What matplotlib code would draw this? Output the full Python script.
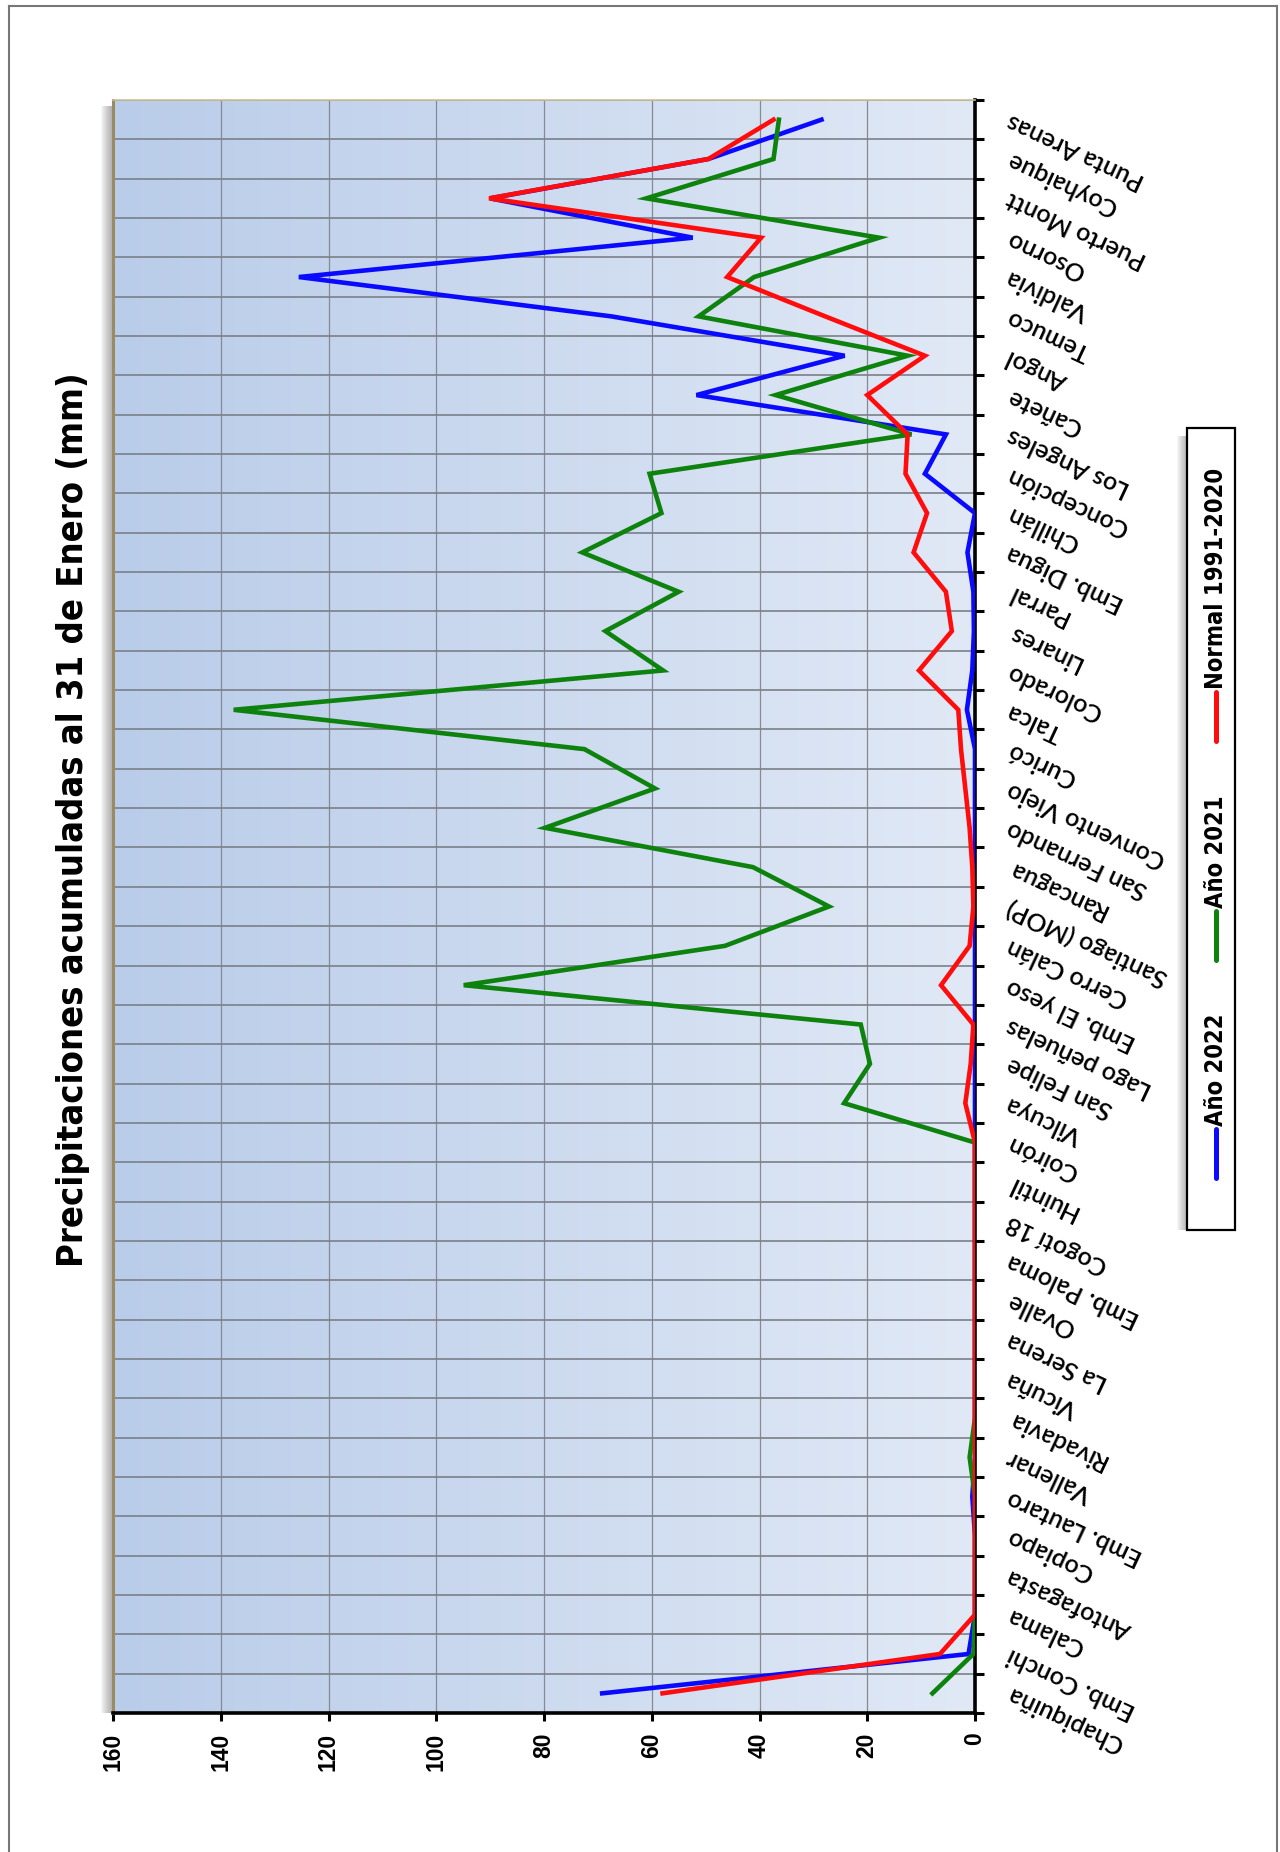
import numpy as np
import matplotlib.pyplot as plt
import matplotlib.transforms as mtransforms
from matplotlib.patches import Rectangle
from matplotlib.lines import Line2D
from matplotlib.colors import LinearSegmentedColormap

# estaciones de norte (abajo) a sur (arriba)
estaciones = ["Chapiquiña", "Emb. Conchi", "Calama", "Antofagasta", "Copiapo",
              "Emb. Lautaro", "Vallenar", "Rivadavia", "Vicuña", "La Serena",
              "Ovalle", "Emb. Paloma", "Cogotí 18", "Huintil", "Coirón",
              "Vilcuya", "San Felipe", "Lago peñuelas", "Emb. El yeso", "Cerro Calán",
              "Santiago (MOP)", "Rancagua", "San Fernando", "Convento Viejo", "Curicó",
              "Talca", "Colorado", "Linares", "Parral", "Emb. Digua",
              "Chillán", "Concepción", "Los Angeles", "Cañete", "Angol",
              "Temuco", "Valdivia", "Osorno", "Puerto Montt", "Coyhaique",
              "Punta Arenas"]

ano2022 = [69.2, 1.2, 0, 0, 0, 0.5, 0, 0, 0, 0,
           0, 0, 0, 0, 0, 0, 0, 0, 0, 0,
           0, 0, 0, 0, 0, 1.5, 0.5, 0.2, 0.3, 1.4,
           0, 9.3, 5.4, 51.7, 24.2, 67.5, 125.5, 52.4, 90.0, 49.5,
           28.5]
ano2021 = [7.9, 0.3, 0, 0, 0, 0, 1.0, 0, 0, 0,
           0, 0, 0, 0, 0, 24.3, 19.5, 21.2, 94.9, 46.4,
           27.1, 41.2, 79.8, 59.4, 72.5, 137.6, 57.9, 68.6, 55.0, 72.9,
           58.2, 60.4, 11.8, 37.0, 12.5, 51.3, 41.0, 17.8, 61.0, 37.4,
           36.4]
normal = [58.0, 6.5, 0, 0, 0, 0, 0, 0, 0, 0,
          0, 0, 0, 0, 0, 1.8, 0.8, 0.3, 6.3, 1.0,
          0.3, 0.5, 1.0, 1.8, 2.6, 3.1, 10.4, 4.3, 5.4, 11.4,
          8.9, 12.9, 12.5, 20.0, 9.3, 27.8, 46.0, 39.7, 90.2, 49.5,
          37.4]

series = ["Año 2022", "Año 2021", "Normal 1991-2020"]
colores = ["#0a0aff", "#0d820d", "#ff0d0d"]
ticks_valor = list(range(0, 161, 20))
titulo = "Precipitaciones acumuladas al 31 de Enero (mm)"

W, H = 1280, 1852
def fx(px):
    return px / W
def fy(py):
    return 1 - py / H

fig = plt.figure(figsize=(12.8, 18.52), dpi=100)
fig.patch.set_facecolor("white")

# sombra del area de trazado
for k in range(12):
    fig.add_artist(Rectangle((fx(101 + k), fy(1713)), fx(113) - fx(101 + k), fy(106) - fy(1713),
                             transform=fig.transFigure, fc="#606060", ec="none",
                             alpha=0.05, zorder=0))

ax = fig.add_axes([fx(113), fy(1713), fx(975) - fx(113), fy(100) - fy(1713)])
grad = np.linspace(0, 1, 256).reshape(1, -1)
cmap = LinearSegmentedColormap.from_list("fondo", ["#b9cce9", "#e1e9f6"])
ax.imshow(grad, extent=[0, 1, 0, 1], transform=ax.transAxes, aspect="auto",
          cmap=cmap, zorder=0)

y = np.arange(len(estaciones)) + 0.5
for vals, c, nom in zip([ano2022, ano2021, normal], colores, series):
    ax.plot(vals, y, color=c, lw=3.3, label=nom, zorder=3, solid_joinstyle="miter")

ax.set_xlim(160, 0)
ax.set_ylim(0, len(estaciones))
ax.set_xticks(ticks_valor)
ax.set_xticklabels([str(t) for t in ticks_valor], rotation=90, fontsize=16.5,
                   fontweight="bold", family=["Liberation Sans", "DejaVu Sans"])
ax.set_yticks(np.arange(0, len(estaciones) + 1))
ax.yaxis.tick_right()
ax.set_yticklabels([])
ax.tick_params(axis="y", direction="out", length=6.5, width=2.2, color="black")
ax.tick_params(axis="x", direction="out", length=6, width=2.2, pad=8)

ax.set_axisbelow(True)
ax.grid(True, axis="x", color="#858a94", lw=0.9)
ax.grid(True, axis="y", color="#7b8089", lw=1.2)

ax.spines["right"].set_color("black")
ax.spines["right"].set_linewidth(2.6)
ax.spines["bottom"].set_color("black")
ax.spines["bottom"].set_linewidth(2.6)
ax.spines["left"].set_color("#9b8b62")
ax.spines["left"].set_linewidth(2.2)
ax.spines["top"].set_color("#cdbf95")
ax.spines["top"].set_linewidth(1.2)

# nombres de estaciones, inclinados
off = mtransforms.ScaledTranslation(0.33, 0, fig.dpi_scale_trans)
trans = mtransforms.blended_transform_factory(ax.transAxes, ax.transData) + off
for i, nombre in enumerate(estaciones):
    ax.text(1, i + 0.5, nombre, transform=trans, rotation=155, rotation_mode="anchor",
            ha="right", va="center", fontsize=18, fontweight="semibold",
            family=["Lato", "DejaVu Sans"], clip_on=False)

fig.text(fx(73), fy(820), titulo, rotation=90, ha="center", va="center",
         fontsize=26, fontweight="bold", fontstretch="condensed", family="DejaVu Sans")

# leyenda vertical
for k in range(10):
    fig.add_artist(Rectangle((fx(1177 + k), fy(1230)), fx(1187) - fx(1177 + k), fy(436) - fy(1230),
                             transform=fig.transFigure, fc="#606060", ec="none",
                             alpha=0.05, zorder=1))
fig.add_artist(Rectangle((fx(1187), fy(1230)), fx(1235) - fx(1187), fy(428) - fy(1230),
                         transform=fig.transFigure, fc="white", ec="black", lw=1.6, zorder=2))
seg_y = [(1178, 1129), (960, 911), (741, 692)]
for (y0, y1), c, nom in zip(seg_y, colores, series):
    fig.add_artist(Line2D([fx(1216), fx(1216)], [fy(y0), fy(y1)], transform=fig.transFigure,
                          color=c, lw=3.6, solid_capstyle="round", zorder=3))
    fig.text(fx(1216), fy(y1 - 3), nom, rotation=90, rotation_mode="anchor",
             ha="left", va="center", fontsize=17, fontweight="bold",
             fontstretch="condensed", family="DejaVu Sans", zorder=3)

# marco exterior
for xs, ys in [([9, 9], [1852, 6]), ([9, 1277], [6, 6]), ([1277, 1277], [6, 1852])]:
    fig.add_artist(Line2D([fx(v) for v in xs], [fy(v) for v in ys], transform=fig.transFigure,
                          color="#777777", lw=1.5))

fig.savefig("out.png", dpi=100)
